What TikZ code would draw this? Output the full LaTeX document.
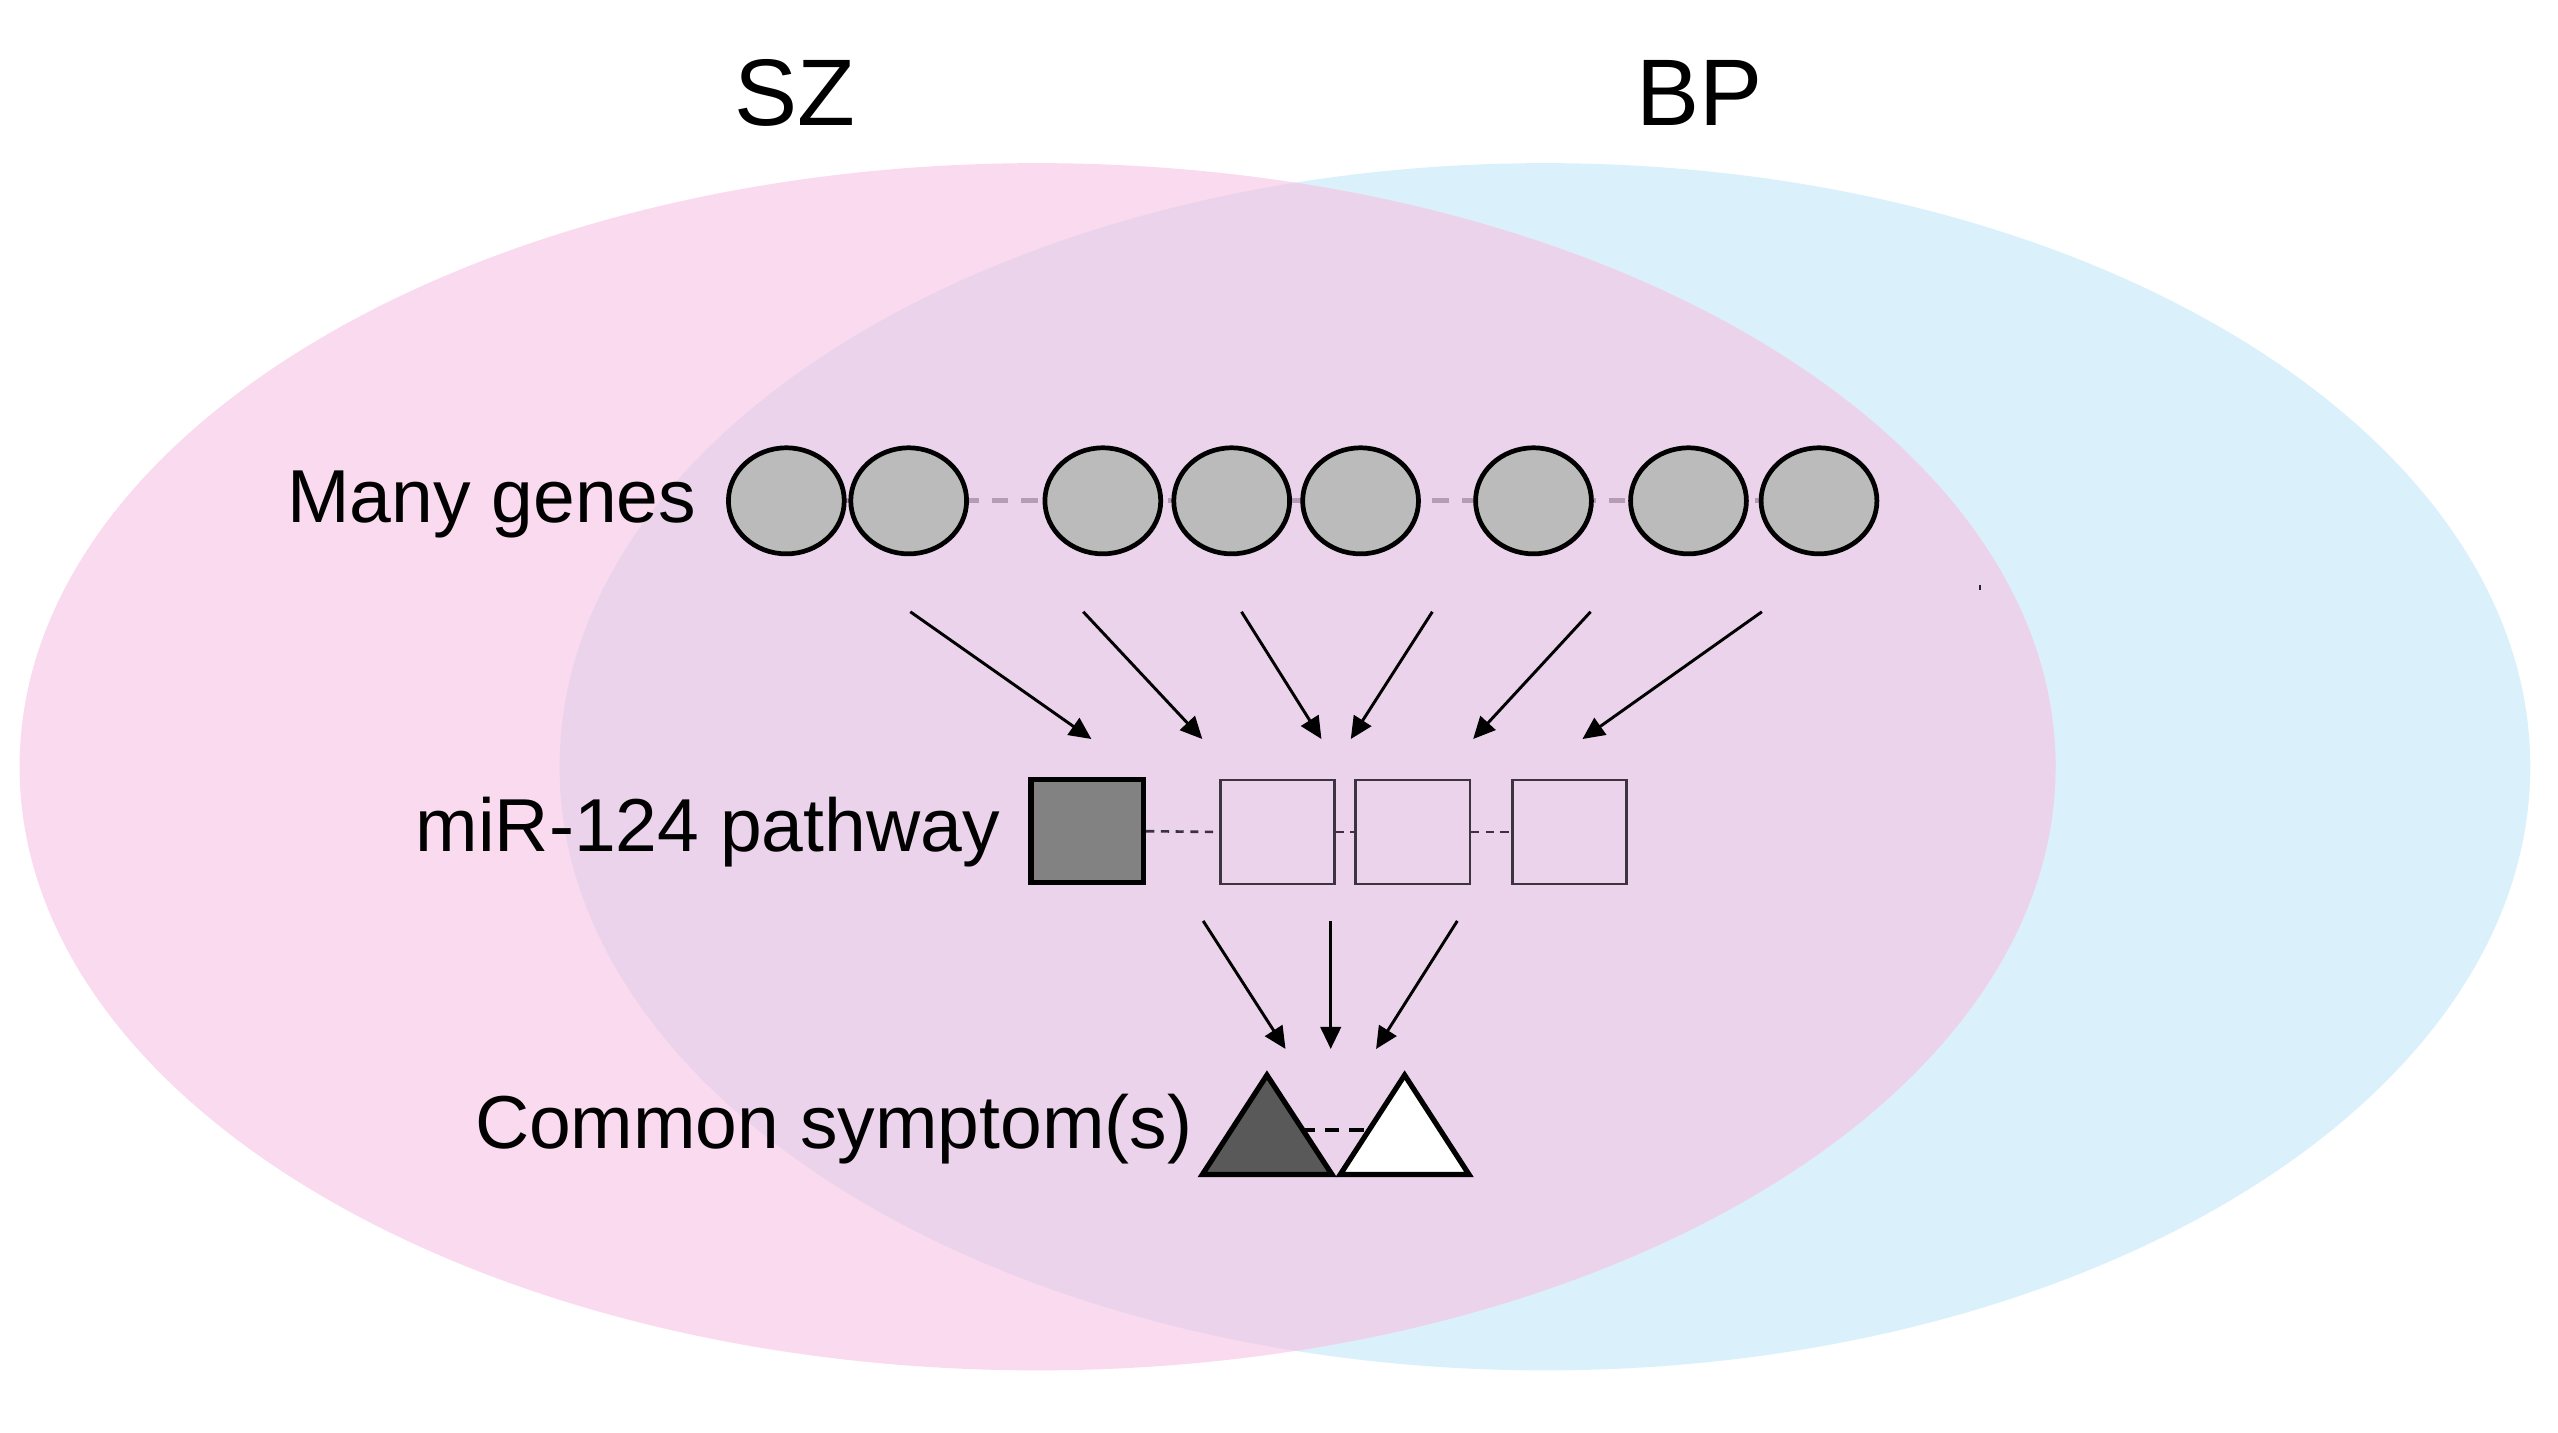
\documentclass[tikz,border=0pt]{standalone}
\usepackage{fontspec}
\setmainfont{Liberation Sans}
\usetikzlibrary{shapes.geometric,arrows.meta}
\definecolor{szpink}{HTML}{FADAEE}
\definecolor{bpblue}{HTML}{DAF0FB}
\definecolor{overlap}{HTML}{EBD4EB}
\definecolor{genefill}{HTML}{BBBBBB}
\definecolor{genedash}{HTML}{B49CB6}
\definecolor{sqdash}{HTML}{3C3044}
\definecolor{sqline}{HTML}{3C3440}
\begin{document}
\begin{tikzpicture}[x=1pt,y=-1pt,
  gene/.style={ellipse,draw=black,line width=2.9pt,fill=genefill,minimum width=71pt,minimum height=65pt,inner sep=0pt},
  darksq/.style={rectangle,draw=black,line width=3.2pt,fill=black!49,minimum width=69pt,minimum height=63pt,inner sep=0pt},
  lightsq/.style={rectangle,draw=sqline,line width=1.5pt,minimum width=70pt,minimum height=64pt,inner sep=0pt},
  arr/.style={line width=1.8pt,-{Triangle[length=13.5pt,width=12.5pt]}},
  lab/.style={font=\fontsize{46}{50}\selectfont,anchor=base east,inner sep=0pt},
  title/.style={font=\fontsize{58}{62}\selectfont,anchor=base,inner sep=0pt},
  tri/.style={line width=3.2pt,line join=miter}
]
\useasboundingbox (0,0) rectangle (1568,878);
% Venn ellipses
\fill[bpblue] (947,470) ellipse [x radius=604, y radius=370];
\fill[szpink] (636,470) ellipse [x radius=624, y radius=370];
\begin{scope}
  \clip (947,470) ellipse [x radius=604, y radius=370];
  \fill[overlap] (636,470) ellipse [x radius=624, y radius=370];
\end{scope}
% titles
\node[title] (sz) at (487,77) {SZ};
\node[title] (bp) at (1042,77) {BP};
% labels
\node[lab] (lgenes) at (427,320) {Many genes};
\node[lab] (lpath) at (613,522) {miR-124 pathway};
\node[lab] (lsym) at (731,704) {Common symptom(s)};
% genes
\draw[genedash,line width=3pt,dash pattern=on 10pt off 8pt] (482,307) -- (1115,307);
\foreach \n/\x in {1/482,2/557,3/676,4/755,5/834,6/940,7/1035,8/1115}{
  \node[gene] (g\n) at (\x,307) {};
}
% squares
\node[darksq] (s1) at (666.5,509.5) {};
\node[lightsq] (s2) at (783,510) {};
\node[lightsq] (s3) at (866,510) {};
\node[lightsq] (s4) at (962,510) {};
\draw[sqdash,line width=1.6pt,dash pattern=on 5pt off 4pt] (s1.east) -- (s2.west);
\draw[sqdash,line width=1.6pt,dash pattern=on 5pt off 4pt] (s2.east) -- (s3.west);
\draw[sqdash,line width=1.6pt,dash pattern=on 5pt off 4pt] (s3.east) -- (s4.west);
% arrows genes -> pathway
\foreach \i/\xs/\xe in {1/558/669,2/664/737,3/761/810,4/878/828,5/975/903,6/1080/970}{
  \coordinate (ga\i) at (\xs,375);
  \coordinate (gb\i) at (\xe,453);
  \draw[arr] (ga\i) -- (gb\i);
}
% arrows pathway -> symptoms
\coordinate (pa1) at (737.5,564.5); \coordinate (pb1) at (788,643);
\coordinate (pa2) at (815.7,564.5); \coordinate (pb2) at (815.7,643);
\coordinate (pa3) at (893.3,564.5); \coordinate (pb3) at (843.5,643);
\draw[arr] (pa1) -- (pb1);
\draw[arr] (pa2) -- (pb2);
\draw[arr] (pa3) -- (pb3);
% triangles
\coordinate (t1l) at (737,720); \coordinate (t1a) at (776.6,659); \coordinate (t1r) at (816.5,720);
\coordinate (t2l) at (821.5,720); \coordinate (t2a) at (861,659); \coordinate (t2r) at (900.5,720);
\coordinate (d1) at (797,692.5); \coordinate (d2) at (841,692.5);
\draw[black,line width=2.5pt,dash pattern=on 9pt off 6pt] (d1) -- (d2);
\draw[tri,fill=black!65] (t1l) -- (t1a) -- (t1r) -- cycle;
\draw[tri,fill=white] (t2l) -- (t2a) -- (t2r) -- cycle;
% stray dot
\fill[black!85] (1212.8,358.8) rectangle (1214.4,361.6);
\end{tikzpicture}
\end{document}
